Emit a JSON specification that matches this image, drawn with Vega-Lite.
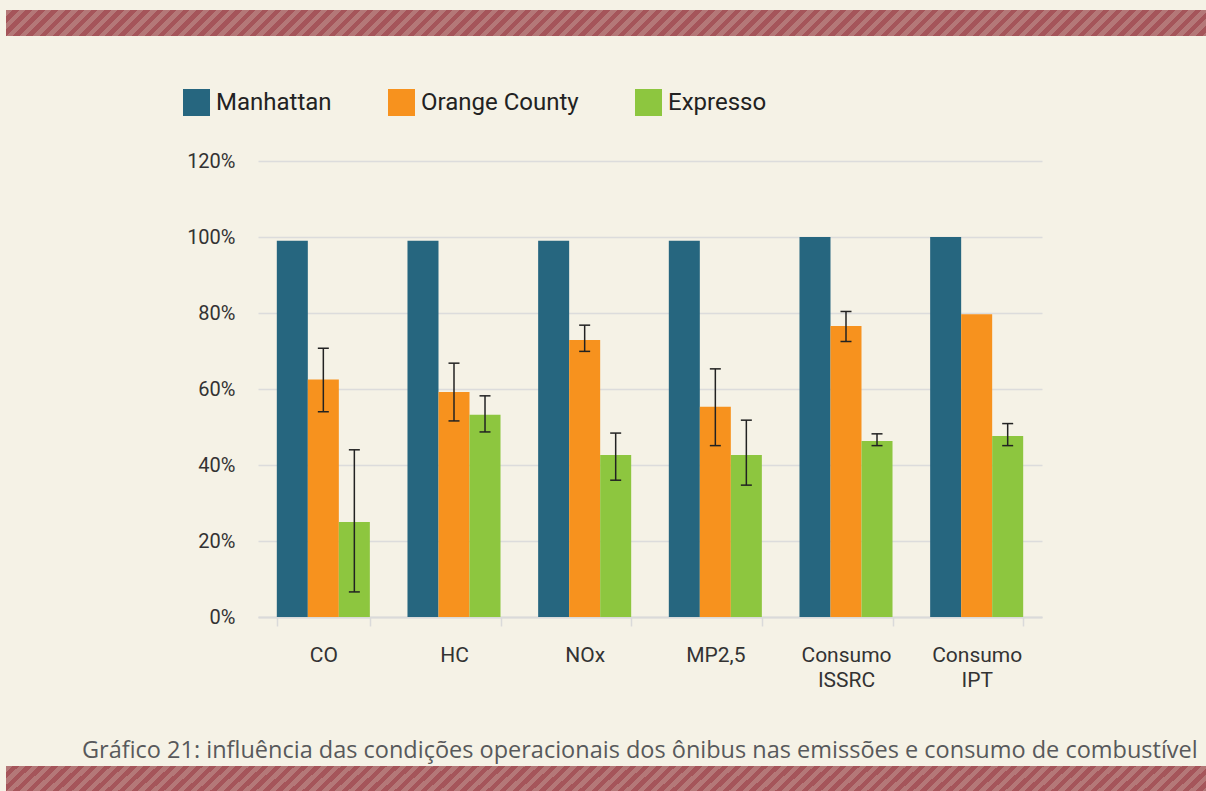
{
  "$schema": "https://vega.github.io/schema/vega-lite/v6.json",
  "background": "#F5F2E6",
  "padding": {"left": 6, "top": 10, "right": 0, "bottom": 0},
  "bounds": "flush",
  "center": true,
  "spacing": 125,
  "config": {
    "view": {"stroke": null},
    "axis": {"labelFont": "Roboto", "labelColor": "#333333"},
    "legend": {"labelFont": "Roboto"}
  },
  "datasets": {
    "emis": [
      {"cat": "CO", "series": "Manhattan", "value": 0.99},
      {"cat": "CO", "series": "Orange County", "value": 0.625, "lo": 0.54, "hi": 0.707},
      {"cat": "CO", "series": "Expresso", "value": 0.25, "lo": 0.066, "hi": 0.44},
      {"cat": "HC", "series": "Manhattan", "value": 0.99},
      {"cat": "HC", "series": "Orange County", "value": 0.592, "lo": 0.516, "hi": 0.668},
      {"cat": "HC", "series": "Expresso", "value": 0.532, "lo": 0.487, "hi": 0.582},
      {"cat": "NOx", "series": "Manhattan", "value": 0.99},
      {"cat": "NOx", "series": "Orange County", "value": 0.729, "lo": 0.699, "hi": 0.768},
      {"cat": "NOx", "series": "Expresso", "value": 0.426, "lo": 0.36, "hi": 0.484},
      {"cat": "MP2,5", "series": "Manhattan", "value": 0.99},
      {"cat": "MP2,5", "series": "Orange County", "value": 0.553, "lo": 0.451, "hi": 0.653},
      {"cat": "MP2,5", "series": "Expresso", "value": 0.426, "lo": 0.347, "hi": 0.518},
      {"cat": "Consumo ISSRC", "series": "Manhattan", "value": 1.0},
      {"cat": "Consumo ISSRC", "series": "Orange County", "value": 0.766, "lo": 0.725, "hi": 0.804},
      {"cat": "Consumo ISSRC", "series": "Expresso", "value": 0.463, "lo": 0.451, "hi": 0.482},
      {"cat": "Consumo IPT", "series": "Manhattan", "value": 1.0},
      {"cat": "Consumo IPT", "series": "Orange County", "value": 0.797},
      {"cat": "Consumo IPT", "series": "Expresso", "value": 0.476, "lo": 0.451, "hi": 0.509}
    ]
  },
  "vconcat": [
    {
      "width": 1288,
      "height": 26,
      "data": {"values": [{"k": 1}]},
      "mark": {"type": "rect", "strokeWidth": 0, "fill": {"gradient": "linear", "x1": 0, "y1": 0, "x2": 1.01977, "y2": 0.020586, "stops": [
{"offset":0,"color":"#b47878"},{"offset":0.005,"color":"#b47878"},{"offset":0.005,"color":"#a5555a"},{"offset":0.01,"color":"#a5555a"},
{"offset":0.01,"color":"#b47878"},{"offset":0.015,"color":"#b47878"},{"offset":0.015,"color":"#a5555a"},{"offset":0.02,"color":"#a5555a"},
{"offset":0.02,"color":"#b47878"},{"offset":0.025,"color":"#b47878"},{"offset":0.025,"color":"#a5555a"},{"offset":0.03,"color":"#a5555a"},
{"offset":0.03,"color":"#b47878"},{"offset":0.035,"color":"#b47878"},{"offset":0.035,"color":"#a5555a"},{"offset":0.04,"color":"#a5555a"},
{"offset":0.04,"color":"#b47878"},{"offset":0.045,"color":"#b47878"},{"offset":0.045,"color":"#a5555a"},{"offset":0.05,"color":"#a5555a"},
{"offset":0.05,"color":"#b47878"},{"offset":0.055,"color":"#b47878"},{"offset":0.055,"color":"#a5555a"},{"offset":0.06,"color":"#a5555a"},
{"offset":0.06,"color":"#b47878"},{"offset":0.065,"color":"#b47878"},{"offset":0.065,"color":"#a5555a"},{"offset":0.07,"color":"#a5555a"},
{"offset":0.07,"color":"#b47878"},{"offset":0.075,"color":"#b47878"},{"offset":0.075,"color":"#a5555a"},{"offset":0.08,"color":"#a5555a"},
{"offset":0.08,"color":"#b47878"},{"offset":0.085,"color":"#b47878"},{"offset":0.085,"color":"#a5555a"},{"offset":0.09,"color":"#a5555a"},
{"offset":0.09,"color":"#b47878"},{"offset":0.095,"color":"#b47878"},{"offset":0.095,"color":"#a5555a"},{"offset":0.1,"color":"#a5555a"},
{"offset":0.1,"color":"#b47878"},{"offset":0.105,"color":"#b47878"},{"offset":0.105,"color":"#a5555a"},{"offset":0.11,"color":"#a5555a"},
{"offset":0.11,"color":"#b47878"},{"offset":0.115,"color":"#b47878"},{"offset":0.115,"color":"#a5555a"},{"offset":0.12,"color":"#a5555a"},
{"offset":0.12,"color":"#b47878"},{"offset":0.125,"color":"#b47878"},{"offset":0.125,"color":"#a5555a"},{"offset":0.13,"color":"#a5555a"},
{"offset":0.13,"color":"#b47878"},{"offset":0.135,"color":"#b47878"},{"offset":0.135,"color":"#a5555a"},{"offset":0.14,"color":"#a5555a"},
{"offset":0.14,"color":"#b47878"},{"offset":0.145,"color":"#b47878"},{"offset":0.145,"color":"#a5555a"},{"offset":0.15,"color":"#a5555a"},
{"offset":0.15,"color":"#b47878"},{"offset":0.155,"color":"#b47878"},{"offset":0.155,"color":"#a5555a"},{"offset":0.16,"color":"#a5555a"},
{"offset":0.16,"color":"#b47878"},{"offset":0.165,"color":"#b47878"},{"offset":0.165,"color":"#a5555a"},{"offset":0.17,"color":"#a5555a"},
{"offset":0.17,"color":"#b47878"},{"offset":0.175,"color":"#b47878"},{"offset":0.175,"color":"#a5555a"},{"offset":0.18,"color":"#a5555a"},
{"offset":0.18,"color":"#b47878"},{"offset":0.185,"color":"#b47878"},{"offset":0.185,"color":"#a5555a"},{"offset":0.19,"color":"#a5555a"},
{"offset":0.19,"color":"#b47878"},{"offset":0.195,"color":"#b47878"},{"offset":0.195,"color":"#a5555a"},{"offset":0.2,"color":"#a5555a"},
{"offset":0.2,"color":"#b47878"},{"offset":0.205,"color":"#b47878"},{"offset":0.205,"color":"#a5555a"},{"offset":0.21,"color":"#a5555a"},
{"offset":0.21,"color":"#b47878"},{"offset":0.215,"color":"#b47878"},{"offset":0.215,"color":"#a5555a"},{"offset":0.22,"color":"#a5555a"},
{"offset":0.22,"color":"#b47878"},{"offset":0.225,"color":"#b47878"},{"offset":0.225,"color":"#a5555a"},{"offset":0.23,"color":"#a5555a"},
{"offset":0.23,"color":"#b47878"},{"offset":0.235,"color":"#b47878"},{"offset":0.235,"color":"#a5555a"},{"offset":0.24,"color":"#a5555a"},
{"offset":0.24,"color":"#b47878"},{"offset":0.245,"color":"#b47878"},{"offset":0.245,"color":"#a5555a"},{"offset":0.25,"color":"#a5555a"},
{"offset":0.25,"color":"#b47878"},{"offset":0.255,"color":"#b47878"},{"offset":0.255,"color":"#a5555a"},{"offset":0.26,"color":"#a5555a"},
{"offset":0.26,"color":"#b47878"},{"offset":0.265,"color":"#b47878"},{"offset":0.265,"color":"#a5555a"},{"offset":0.27,"color":"#a5555a"},
{"offset":0.27,"color":"#b47878"},{"offset":0.275,"color":"#b47878"},{"offset":0.275,"color":"#a5555a"},{"offset":0.28,"color":"#a5555a"},
{"offset":0.28,"color":"#b47878"},{"offset":0.285,"color":"#b47878"},{"offset":0.285,"color":"#a5555a"},{"offset":0.29,"color":"#a5555a"},
{"offset":0.29,"color":"#b47878"},{"offset":0.295,"color":"#b47878"},{"offset":0.295,"color":"#a5555a"},{"offset":0.3,"color":"#a5555a"},
{"offset":0.3,"color":"#b47878"},{"offset":0.305,"color":"#b47878"},{"offset":0.305,"color":"#a5555a"},{"offset":0.31,"color":"#a5555a"},
{"offset":0.31,"color":"#b47878"},{"offset":0.315,"color":"#b47878"},{"offset":0.315,"color":"#a5555a"},{"offset":0.32,"color":"#a5555a"},
{"offset":0.32,"color":"#b47878"},{"offset":0.325,"color":"#b47878"},{"offset":0.325,"color":"#a5555a"},{"offset":0.33,"color":"#a5555a"},
{"offset":0.33,"color":"#b47878"},{"offset":0.335,"color":"#b47878"},{"offset":0.335,"color":"#a5555a"},{"offset":0.34,"color":"#a5555a"},
{"offset":0.34,"color":"#b47878"},{"offset":0.345,"color":"#b47878"},{"offset":0.345,"color":"#a5555a"},{"offset":0.35,"color":"#a5555a"},
{"offset":0.35,"color":"#b47878"},{"offset":0.355,"color":"#b47878"},{"offset":0.355,"color":"#a5555a"},{"offset":0.36,"color":"#a5555a"},
{"offset":0.36,"color":"#b47878"},{"offset":0.365,"color":"#b47878"},{"offset":0.365,"color":"#a5555a"},{"offset":0.37,"color":"#a5555a"},
{"offset":0.37,"color":"#b47878"},{"offset":0.375,"color":"#b47878"},{"offset":0.375,"color":"#a5555a"},{"offset":0.38,"color":"#a5555a"},
{"offset":0.38,"color":"#b47878"},{"offset":0.385,"color":"#b47878"},{"offset":0.385,"color":"#a5555a"},{"offset":0.39,"color":"#a5555a"},
{"offset":0.39,"color":"#b47878"},{"offset":0.395,"color":"#b47878"},{"offset":0.395,"color":"#a5555a"},{"offset":0.4,"color":"#a5555a"},
{"offset":0.4,"color":"#b47878"},{"offset":0.405,"color":"#b47878"},{"offset":0.405,"color":"#a5555a"},{"offset":0.41,"color":"#a5555a"},
{"offset":0.41,"color":"#b47878"},{"offset":0.415,"color":"#b47878"},{"offset":0.415,"color":"#a5555a"},{"offset":0.42,"color":"#a5555a"},
{"offset":0.42,"color":"#b47878"},{"offset":0.425,"color":"#b47878"},{"offset":0.425,"color":"#a5555a"},{"offset":0.43,"color":"#a5555a"},
{"offset":0.43,"color":"#b47878"},{"offset":0.435,"color":"#b47878"},{"offset":0.435,"color":"#a5555a"},{"offset":0.44,"color":"#a5555a"},
{"offset":0.44,"color":"#b47878"},{"offset":0.445,"color":"#b47878"},{"offset":0.445,"color":"#a5555a"},{"offset":0.45,"color":"#a5555a"},
{"offset":0.45,"color":"#b47878"},{"offset":0.455,"color":"#b47878"},{"offset":0.455,"color":"#a5555a"},{"offset":0.46,"color":"#a5555a"},
{"offset":0.46,"color":"#b47878"},{"offset":0.465,"color":"#b47878"},{"offset":0.465,"color":"#a5555a"},{"offset":0.47,"color":"#a5555a"},
{"offset":0.47,"color":"#b47878"},{"offset":0.475,"color":"#b47878"},{"offset":0.475,"color":"#a5555a"},{"offset":0.48,"color":"#a5555a"},
{"offset":0.48,"color":"#b47878"},{"offset":0.485,"color":"#b47878"},{"offset":0.485,"color":"#a5555a"},{"offset":0.49,"color":"#a5555a"},
{"offset":0.49,"color":"#b47878"},{"offset":0.495,"color":"#b47878"},{"offset":0.495,"color":"#a5555a"},{"offset":0.5,"color":"#a5555a"},
{"offset":0.5,"color":"#b47878"},{"offset":0.505,"color":"#b47878"},{"offset":0.505,"color":"#a5555a"},{"offset":0.51,"color":"#a5555a"},
{"offset":0.51,"color":"#b47878"},{"offset":0.515,"color":"#b47878"},{"offset":0.515,"color":"#a5555a"},{"offset":0.52,"color":"#a5555a"},
{"offset":0.52,"color":"#b47878"},{"offset":0.525,"color":"#b47878"},{"offset":0.525,"color":"#a5555a"},{"offset":0.53,"color":"#a5555a"},
{"offset":0.53,"color":"#b47878"},{"offset":0.535,"color":"#b47878"},{"offset":0.535,"color":"#a5555a"},{"offset":0.54,"color":"#a5555a"},
{"offset":0.54,"color":"#b47878"},{"offset":0.545,"color":"#b47878"},{"offset":0.545,"color":"#a5555a"},{"offset":0.55,"color":"#a5555a"},
{"offset":0.55,"color":"#b47878"},{"offset":0.555,"color":"#b47878"},{"offset":0.555,"color":"#a5555a"},{"offset":0.56,"color":"#a5555a"},
{"offset":0.56,"color":"#b47878"},{"offset":0.565,"color":"#b47878"},{"offset":0.565,"color":"#a5555a"},{"offset":0.57,"color":"#a5555a"},
{"offset":0.57,"color":"#b47878"},{"offset":0.575,"color":"#b47878"},{"offset":0.575,"color":"#a5555a"},{"offset":0.58,"color":"#a5555a"},
{"offset":0.58,"color":"#b47878"},{"offset":0.585,"color":"#b47878"},{"offset":0.585,"color":"#a5555a"},{"offset":0.59,"color":"#a5555a"},
{"offset":0.59,"color":"#b47878"},{"offset":0.595,"color":"#b47878"},{"offset":0.595,"color":"#a5555a"},{"offset":0.6,"color":"#a5555a"},
{"offset":0.6,"color":"#b47878"},{"offset":0.605,"color":"#b47878"},{"offset":0.605,"color":"#a5555a"},{"offset":0.61,"color":"#a5555a"},
{"offset":0.61,"color":"#b47878"},{"offset":0.615,"color":"#b47878"},{"offset":0.615,"color":"#a5555a"},{"offset":0.62,"color":"#a5555a"},
{"offset":0.62,"color":"#b47878"},{"offset":0.625,"color":"#b47878"},{"offset":0.625,"color":"#a5555a"},{"offset":0.63,"color":"#a5555a"},
{"offset":0.63,"color":"#b47878"},{"offset":0.635,"color":"#b47878"},{"offset":0.635,"color":"#a5555a"},{"offset":0.64,"color":"#a5555a"},
{"offset":0.64,"color":"#b47878"},{"offset":0.645,"color":"#b47878"},{"offset":0.645,"color":"#a5555a"},{"offset":0.65,"color":"#a5555a"},
{"offset":0.65,"color":"#b47878"},{"offset":0.655,"color":"#b47878"},{"offset":0.655,"color":"#a5555a"},{"offset":0.66,"color":"#a5555a"},
{"offset":0.66,"color":"#b47878"},{"offset":0.665,"color":"#b47878"},{"offset":0.665,"color":"#a5555a"},{"offset":0.67,"color":"#a5555a"},
{"offset":0.67,"color":"#b47878"},{"offset":0.675,"color":"#b47878"},{"offset":0.675,"color":"#a5555a"},{"offset":0.68,"color":"#a5555a"},
{"offset":0.68,"color":"#b47878"},{"offset":0.685,"color":"#b47878"},{"offset":0.685,"color":"#a5555a"},{"offset":0.69,"color":"#a5555a"},
{"offset":0.69,"color":"#b47878"},{"offset":0.695,"color":"#b47878"},{"offset":0.695,"color":"#a5555a"},{"offset":0.7,"color":"#a5555a"},
{"offset":0.7,"color":"#b47878"},{"offset":0.705,"color":"#b47878"},{"offset":0.705,"color":"#a5555a"},{"offset":0.71,"color":"#a5555a"},
{"offset":0.71,"color":"#b47878"},{"offset":0.715,"color":"#b47878"},{"offset":0.715,"color":"#a5555a"},{"offset":0.72,"color":"#a5555a"},
{"offset":0.72,"color":"#b47878"},{"offset":0.725,"color":"#b47878"},{"offset":0.725,"color":"#a5555a"},{"offset":0.73,"color":"#a5555a"},
{"offset":0.73,"color":"#b47878"},{"offset":0.735,"color":"#b47878"},{"offset":0.735,"color":"#a5555a"},{"offset":0.74,"color":"#a5555a"},
{"offset":0.74,"color":"#b47878"},{"offset":0.745,"color":"#b47878"},{"offset":0.745,"color":"#a5555a"},{"offset":0.75,"color":"#a5555a"},
{"offset":0.75,"color":"#b47878"},{"offset":0.755,"color":"#b47878"},{"offset":0.755,"color":"#a5555a"},{"offset":0.76,"color":"#a5555a"},
{"offset":0.76,"color":"#b47878"},{"offset":0.765,"color":"#b47878"},{"offset":0.765,"color":"#a5555a"},{"offset":0.77,"color":"#a5555a"},
{"offset":0.77,"color":"#b47878"},{"offset":0.775,"color":"#b47878"},{"offset":0.775,"color":"#a5555a"},{"offset":0.78,"color":"#a5555a"},
{"offset":0.78,"color":"#b47878"},{"offset":0.785,"color":"#b47878"},{"offset":0.785,"color":"#a5555a"},{"offset":0.79,"color":"#a5555a"},
{"offset":0.79,"color":"#b47878"},{"offset":0.795,"color":"#b47878"},{"offset":0.795,"color":"#a5555a"},{"offset":0.8,"color":"#a5555a"},
{"offset":0.8,"color":"#b47878"},{"offset":0.805,"color":"#b47878"},{"offset":0.805,"color":"#a5555a"},{"offset":0.81,"color":"#a5555a"},
{"offset":0.81,"color":"#b47878"},{"offset":0.815,"color":"#b47878"},{"offset":0.815,"color":"#a5555a"},{"offset":0.82,"color":"#a5555a"},
{"offset":0.82,"color":"#b47878"},{"offset":0.825,"color":"#b47878"},{"offset":0.825,"color":"#a5555a"},{"offset":0.83,"color":"#a5555a"},
{"offset":0.83,"color":"#b47878"},{"offset":0.835,"color":"#b47878"},{"offset":0.835,"color":"#a5555a"},{"offset":0.84,"color":"#a5555a"},
{"offset":0.84,"color":"#b47878"},{"offset":0.845,"color":"#b47878"},{"offset":0.845,"color":"#a5555a"},{"offset":0.85,"color":"#a5555a"},
{"offset":0.85,"color":"#b47878"},{"offset":0.855,"color":"#b47878"},{"offset":0.855,"color":"#a5555a"},{"offset":0.86,"color":"#a5555a"},
{"offset":0.86,"color":"#b47878"},{"offset":0.865,"color":"#b47878"},{"offset":0.865,"color":"#a5555a"},{"offset":0.87,"color":"#a5555a"},
{"offset":0.87,"color":"#b47878"},{"offset":0.875,"color":"#b47878"},{"offset":0.875,"color":"#a5555a"},{"offset":0.88,"color":"#a5555a"},
{"offset":0.88,"color":"#b47878"},{"offset":0.885,"color":"#b47878"},{"offset":0.885,"color":"#a5555a"},{"offset":0.89,"color":"#a5555a"},
{"offset":0.89,"color":"#b47878"},{"offset":0.895,"color":"#b47878"},{"offset":0.895,"color":"#a5555a"},{"offset":0.9,"color":"#a5555a"},
{"offset":0.9,"color":"#b47878"},{"offset":0.905,"color":"#b47878"},{"offset":0.905,"color":"#a5555a"},{"offset":0.91,"color":"#a5555a"},
{"offset":0.91,"color":"#b47878"},{"offset":0.915,"color":"#b47878"},{"offset":0.915,"color":"#a5555a"},{"offset":0.92,"color":"#a5555a"},
{"offset":0.92,"color":"#b47878"},{"offset":0.925,"color":"#b47878"},{"offset":0.925,"color":"#a5555a"},{"offset":0.93,"color":"#a5555a"},
{"offset":0.93,"color":"#b47878"},{"offset":0.935,"color":"#b47878"},{"offset":0.935,"color":"#a5555a"},{"offset":0.94,"color":"#a5555a"},
{"offset":0.94,"color":"#b47878"},{"offset":1,"color":"#b47878"}
      ]}},
      "encoding": {
        "x": {"datum": 0, "type": "quantitative", "scale": {"domain": [0, 1], "nice": false}, "axis": null},
        "x2": {"datum": 1},
        "y": {"datum": 0, "type": "quantitative", "scale": {"domain": [0, 1], "nice": false}, "axis": null},
        "y2": {"datum": 1}
      }
    },
    {
      "width": 784,
      "height": 480,
      "view": {"fill": "transparent", "stroke": null},
      "data": {"name": "emis"},
      "title": {
        "text": "Gráfico 21: influência das condições operacionais dos ônibus nas emissões e consumo de combustível",
        "orient": "bottom",
        "anchor": "start",
        "frame": "group",
        "dx": -176,
        "offset": 49,
        "font": "Open Sans",
        "fontSize": 23.5,
        "fontWeight": "normal",
        "color": "#58595B"
      },
      "encoding": {
        "x": {
          "field": "cat",
          "type": "nominal",
          "sort": ["CO", "HC", "NOx", "MP2,5", "Consumo ISSRC", "Consumo IPT"],
          "scale": {"paddingInner": 0.288, "paddingOuter": 0.144},
          "axis": {
            "title": null,
            "labelAngle": 0,
            "labelExpr": "split(datum.label, ' ')",
            "labelFontSize": 21,
            "labelLineHeight": 25,
            "labelPadding": 18,
            "tickBand": "extent",
            "ticks": true,
            "tickSize": 9,
            "tickColor": "#DADADA",
            "tickWidth": 1.5,
            "domainColor": "#DADADA",
            "domainWidth": 2,
            "offset": -24,
            "grid": false
          }
        },
        "xOffset": {
          "field": "series",
          "type": "nominal",
          "sort": ["Manhattan", "Orange County", "Expresso"],
          "scale": {"paddingInner": 0, "paddingOuter": 0}
        }
      },
      "layer": [
        {
          "mark": {"type": "bar"},
          "encoding": {
            "y": {
              "field": "value",
              "type": "quantitative",
              "scale": {"domain": [0, 1.2], "range": [456, 0], "nice": false},
              "axis": {
                "title": null,
                "values": [0, 0.2, 0.4, 0.6, 0.8, 1, 1.2],
                "format": ".0%",
                "labelFontSize": 20,
                "labelPadding": 23,
                "ticks": false,
                "domain": false,
                "gridColor": "#DCDCDC",
                "gridWidth": 1.5
              }
            },
            "color": {
              "field": "series",
              "type": "nominal",
              "scale": {
                "domain": ["Manhattan", "Orange County", "Expresso"],
                "range": ["#26667F", "#F7921E", "#8DC63F"]
              },
              "legend": {
                "title": null,
                "orient": "none",
                "legendX": 177,
                "legendY": 79,
                "direction": "horizontal",
                "symbolType": "square",
                "symbolSize": 729,
                "symbolStrokeWidth": 0,
                "symbolOpacity": 1,
                "labelFontSize": 24,
                "labelColor": "#222222",
                "labelOffset": 6,
                "columnPadding": 56
              }
            }
          }
        },
        {
          "transform": [{"filter": "datum.lo != null"}],
          "mark": {"type": "rule", "color": "#222222", "strokeWidth": 1.5},
          "encoding": {
            "y": {"field": "lo", "type": "quantitative"},
            "y2": {"field": "hi"}
          }
        },
        {
          "transform": [{"filter": "datum.lo != null"}],
          "mark": {"type": "tick", "color": "#222222", "size": 11, "thickness": 1.5, "opacity": 1},
          "encoding": {
            "y": {"field": "lo", "type": "quantitative"}
          }
        },
        {
          "transform": [{"filter": "datum.hi != null"}],
          "mark": {"type": "tick", "color": "#222222", "size": 11, "thickness": 1.5, "opacity": 1},
          "encoding": {
            "y": {"field": "hi", "type": "quantitative"}
          }
        }
      ]
    },
    {
      "width": 1288,
      "height": 25,
      "data": {"values": [{"k": 1}]},
      "mark": {"type": "rect", "strokeWidth": 0, "fill": {"gradient": "linear", "x1": 0, "y1": 0, "x2": 1.01977, "y2": 0.020586, "stops": [
{"offset":0,"color":"#b47878"},{"offset":0.005,"color":"#b47878"},{"offset":0.005,"color":"#a5555a"},{"offset":0.01,"color":"#a5555a"},
{"offset":0.01,"color":"#b47878"},{"offset":0.015,"color":"#b47878"},{"offset":0.015,"color":"#a5555a"},{"offset":0.02,"color":"#a5555a"},
{"offset":0.02,"color":"#b47878"},{"offset":0.025,"color":"#b47878"},{"offset":0.025,"color":"#a5555a"},{"offset":0.03,"color":"#a5555a"},
{"offset":0.03,"color":"#b47878"},{"offset":0.035,"color":"#b47878"},{"offset":0.035,"color":"#a5555a"},{"offset":0.04,"color":"#a5555a"},
{"offset":0.04,"color":"#b47878"},{"offset":0.045,"color":"#b47878"},{"offset":0.045,"color":"#a5555a"},{"offset":0.05,"color":"#a5555a"},
{"offset":0.05,"color":"#b47878"},{"offset":0.055,"color":"#b47878"},{"offset":0.055,"color":"#a5555a"},{"offset":0.06,"color":"#a5555a"},
{"offset":0.06,"color":"#b47878"},{"offset":0.065,"color":"#b47878"},{"offset":0.065,"color":"#a5555a"},{"offset":0.07,"color":"#a5555a"},
{"offset":0.07,"color":"#b47878"},{"offset":0.075,"color":"#b47878"},{"offset":0.075,"color":"#a5555a"},{"offset":0.08,"color":"#a5555a"},
{"offset":0.08,"color":"#b47878"},{"offset":0.085,"color":"#b47878"},{"offset":0.085,"color":"#a5555a"},{"offset":0.09,"color":"#a5555a"},
{"offset":0.09,"color":"#b47878"},{"offset":0.095,"color":"#b47878"},{"offset":0.095,"color":"#a5555a"},{"offset":0.1,"color":"#a5555a"},
{"offset":0.1,"color":"#b47878"},{"offset":0.105,"color":"#b47878"},{"offset":0.105,"color":"#a5555a"},{"offset":0.11,"color":"#a5555a"},
{"offset":0.11,"color":"#b47878"},{"offset":0.115,"color":"#b47878"},{"offset":0.115,"color":"#a5555a"},{"offset":0.12,"color":"#a5555a"},
{"offset":0.12,"color":"#b47878"},{"offset":0.125,"color":"#b47878"},{"offset":0.125,"color":"#a5555a"},{"offset":0.13,"color":"#a5555a"},
{"offset":0.13,"color":"#b47878"},{"offset":0.135,"color":"#b47878"},{"offset":0.135,"color":"#a5555a"},{"offset":0.14,"color":"#a5555a"},
{"offset":0.14,"color":"#b47878"},{"offset":0.145,"color":"#b47878"},{"offset":0.145,"color":"#a5555a"},{"offset":0.15,"color":"#a5555a"},
{"offset":0.15,"color":"#b47878"},{"offset":0.155,"color":"#b47878"},{"offset":0.155,"color":"#a5555a"},{"offset":0.16,"color":"#a5555a"},
{"offset":0.16,"color":"#b47878"},{"offset":0.165,"color":"#b47878"},{"offset":0.165,"color":"#a5555a"},{"offset":0.17,"color":"#a5555a"},
{"offset":0.17,"color":"#b47878"},{"offset":0.175,"color":"#b47878"},{"offset":0.175,"color":"#a5555a"},{"offset":0.18,"color":"#a5555a"},
{"offset":0.18,"color":"#b47878"},{"offset":0.185,"color":"#b47878"},{"offset":0.185,"color":"#a5555a"},{"offset":0.19,"color":"#a5555a"},
{"offset":0.19,"color":"#b47878"},{"offset":0.195,"color":"#b47878"},{"offset":0.195,"color":"#a5555a"},{"offset":0.2,"color":"#a5555a"},
{"offset":0.2,"color":"#b47878"},{"offset":0.205,"color":"#b47878"},{"offset":0.205,"color":"#a5555a"},{"offset":0.21,"color":"#a5555a"},
{"offset":0.21,"color":"#b47878"},{"offset":0.215,"color":"#b47878"},{"offset":0.215,"color":"#a5555a"},{"offset":0.22,"color":"#a5555a"},
{"offset":0.22,"color":"#b47878"},{"offset":0.225,"color":"#b47878"},{"offset":0.225,"color":"#a5555a"},{"offset":0.23,"color":"#a5555a"},
{"offset":0.23,"color":"#b47878"},{"offset":0.235,"color":"#b47878"},{"offset":0.235,"color":"#a5555a"},{"offset":0.24,"color":"#a5555a"},
{"offset":0.24,"color":"#b47878"},{"offset":0.245,"color":"#b47878"},{"offset":0.245,"color":"#a5555a"},{"offset":0.25,"color":"#a5555a"},
{"offset":0.25,"color":"#b47878"},{"offset":0.255,"color":"#b47878"},{"offset":0.255,"color":"#a5555a"},{"offset":0.26,"color":"#a5555a"},
{"offset":0.26,"color":"#b47878"},{"offset":0.265,"color":"#b47878"},{"offset":0.265,"color":"#a5555a"},{"offset":0.27,"color":"#a5555a"},
{"offset":0.27,"color":"#b47878"},{"offset":0.275,"color":"#b47878"},{"offset":0.275,"color":"#a5555a"},{"offset":0.28,"color":"#a5555a"},
{"offset":0.28,"color":"#b47878"},{"offset":0.285,"color":"#b47878"},{"offset":0.285,"color":"#a5555a"},{"offset":0.29,"color":"#a5555a"},
{"offset":0.29,"color":"#b47878"},{"offset":0.295,"color":"#b47878"},{"offset":0.295,"color":"#a5555a"},{"offset":0.3,"color":"#a5555a"},
{"offset":0.3,"color":"#b47878"},{"offset":0.305,"color":"#b47878"},{"offset":0.305,"color":"#a5555a"},{"offset":0.31,"color":"#a5555a"},
{"offset":0.31,"color":"#b47878"},{"offset":0.315,"color":"#b47878"},{"offset":0.315,"color":"#a5555a"},{"offset":0.32,"color":"#a5555a"},
{"offset":0.32,"color":"#b47878"},{"offset":0.325,"color":"#b47878"},{"offset":0.325,"color":"#a5555a"},{"offset":0.33,"color":"#a5555a"},
{"offset":0.33,"color":"#b47878"},{"offset":0.335,"color":"#b47878"},{"offset":0.335,"color":"#a5555a"},{"offset":0.34,"color":"#a5555a"},
{"offset":0.34,"color":"#b47878"},{"offset":0.345,"color":"#b47878"},{"offset":0.345,"color":"#a5555a"},{"offset":0.35,"color":"#a5555a"},
{"offset":0.35,"color":"#b47878"},{"offset":0.355,"color":"#b47878"},{"offset":0.355,"color":"#a5555a"},{"offset":0.36,"color":"#a5555a"},
{"offset":0.36,"color":"#b47878"},{"offset":0.365,"color":"#b47878"},{"offset":0.365,"color":"#a5555a"},{"offset":0.37,"color":"#a5555a"},
{"offset":0.37,"color":"#b47878"},{"offset":0.375,"color":"#b47878"},{"offset":0.375,"color":"#a5555a"},{"offset":0.38,"color":"#a5555a"},
{"offset":0.38,"color":"#b47878"},{"offset":0.385,"color":"#b47878"},{"offset":0.385,"color":"#a5555a"},{"offset":0.39,"color":"#a5555a"},
{"offset":0.39,"color":"#b47878"},{"offset":0.395,"color":"#b47878"},{"offset":0.395,"color":"#a5555a"},{"offset":0.4,"color":"#a5555a"},
{"offset":0.4,"color":"#b47878"},{"offset":0.405,"color":"#b47878"},{"offset":0.405,"color":"#a5555a"},{"offset":0.41,"color":"#a5555a"},
{"offset":0.41,"color":"#b47878"},{"offset":0.415,"color":"#b47878"},{"offset":0.415,"color":"#a5555a"},{"offset":0.42,"color":"#a5555a"},
{"offset":0.42,"color":"#b47878"},{"offset":0.425,"color":"#b47878"},{"offset":0.425,"color":"#a5555a"},{"offset":0.43,"color":"#a5555a"},
{"offset":0.43,"color":"#b47878"},{"offset":0.435,"color":"#b47878"},{"offset":0.435,"color":"#a5555a"},{"offset":0.44,"color":"#a5555a"},
{"offset":0.44,"color":"#b47878"},{"offset":0.445,"color":"#b47878"},{"offset":0.445,"color":"#a5555a"},{"offset":0.45,"color":"#a5555a"},
{"offset":0.45,"color":"#b47878"},{"offset":0.455,"color":"#b47878"},{"offset":0.455,"color":"#a5555a"},{"offset":0.46,"color":"#a5555a"},
{"offset":0.46,"color":"#b47878"},{"offset":0.465,"color":"#b47878"},{"offset":0.465,"color":"#a5555a"},{"offset":0.47,"color":"#a5555a"},
{"offset":0.47,"color":"#b47878"},{"offset":0.475,"color":"#b47878"},{"offset":0.475,"color":"#a5555a"},{"offset":0.48,"color":"#a5555a"},
{"offset":0.48,"color":"#b47878"},{"offset":0.485,"color":"#b47878"},{"offset":0.485,"color":"#a5555a"},{"offset":0.49,"color":"#a5555a"},
{"offset":0.49,"color":"#b47878"},{"offset":0.495,"color":"#b47878"},{"offset":0.495,"color":"#a5555a"},{"offset":0.5,"color":"#a5555a"},
{"offset":0.5,"color":"#b47878"},{"offset":0.505,"color":"#b47878"},{"offset":0.505,"color":"#a5555a"},{"offset":0.51,"color":"#a5555a"},
{"offset":0.51,"color":"#b47878"},{"offset":0.515,"color":"#b47878"},{"offset":0.515,"color":"#a5555a"},{"offset":0.52,"color":"#a5555a"},
{"offset":0.52,"color":"#b47878"},{"offset":0.525,"color":"#b47878"},{"offset":0.525,"color":"#a5555a"},{"offset":0.53,"color":"#a5555a"},
{"offset":0.53,"color":"#b47878"},{"offset":0.535,"color":"#b47878"},{"offset":0.535,"color":"#a5555a"},{"offset":0.54,"color":"#a5555a"},
{"offset":0.54,"color":"#b47878"},{"offset":0.545,"color":"#b47878"},{"offset":0.545,"color":"#a5555a"},{"offset":0.55,"color":"#a5555a"},
{"offset":0.55,"color":"#b47878"},{"offset":0.555,"color":"#b47878"},{"offset":0.555,"color":"#a5555a"},{"offset":0.56,"color":"#a5555a"},
{"offset":0.56,"color":"#b47878"},{"offset":0.565,"color":"#b47878"},{"offset":0.565,"color":"#a5555a"},{"offset":0.57,"color":"#a5555a"},
{"offset":0.57,"color":"#b47878"},{"offset":0.575,"color":"#b47878"},{"offset":0.575,"color":"#a5555a"},{"offset":0.58,"color":"#a5555a"},
{"offset":0.58,"color":"#b47878"},{"offset":0.585,"color":"#b47878"},{"offset":0.585,"color":"#a5555a"},{"offset":0.59,"color":"#a5555a"},
{"offset":0.59,"color":"#b47878"},{"offset":0.595,"color":"#b47878"},{"offset":0.595,"color":"#a5555a"},{"offset":0.6,"color":"#a5555a"},
{"offset":0.6,"color":"#b47878"},{"offset":0.605,"color":"#b47878"},{"offset":0.605,"color":"#a5555a"},{"offset":0.61,"color":"#a5555a"},
{"offset":0.61,"color":"#b47878"},{"offset":0.615,"color":"#b47878"},{"offset":0.615,"color":"#a5555a"},{"offset":0.62,"color":"#a5555a"},
{"offset":0.62,"color":"#b47878"},{"offset":0.625,"color":"#b47878"},{"offset":0.625,"color":"#a5555a"},{"offset":0.63,"color":"#a5555a"},
{"offset":0.63,"color":"#b47878"},{"offset":0.635,"color":"#b47878"},{"offset":0.635,"color":"#a5555a"},{"offset":0.64,"color":"#a5555a"},
{"offset":0.64,"color":"#b47878"},{"offset":0.645,"color":"#b47878"},{"offset":0.645,"color":"#a5555a"},{"offset":0.65,"color":"#a5555a"},
{"offset":0.65,"color":"#b47878"},{"offset":0.655,"color":"#b47878"},{"offset":0.655,"color":"#a5555a"},{"offset":0.66,"color":"#a5555a"},
{"offset":0.66,"color":"#b47878"},{"offset":0.665,"color":"#b47878"},{"offset":0.665,"color":"#a5555a"},{"offset":0.67,"color":"#a5555a"},
{"offset":0.67,"color":"#b47878"},{"offset":0.675,"color":"#b47878"},{"offset":0.675,"color":"#a5555a"},{"offset":0.68,"color":"#a5555a"},
{"offset":0.68,"color":"#b47878"},{"offset":0.685,"color":"#b47878"},{"offset":0.685,"color":"#a5555a"},{"offset":0.69,"color":"#a5555a"},
{"offset":0.69,"color":"#b47878"},{"offset":0.695,"color":"#b47878"},{"offset":0.695,"color":"#a5555a"},{"offset":0.7,"color":"#a5555a"},
{"offset":0.7,"color":"#b47878"},{"offset":0.705,"color":"#b47878"},{"offset":0.705,"color":"#a5555a"},{"offset":0.71,"color":"#a5555a"},
{"offset":0.71,"color":"#b47878"},{"offset":0.715,"color":"#b47878"},{"offset":0.715,"color":"#a5555a"},{"offset":0.72,"color":"#a5555a"},
{"offset":0.72,"color":"#b47878"},{"offset":0.725,"color":"#b47878"},{"offset":0.725,"color":"#a5555a"},{"offset":0.73,"color":"#a5555a"},
{"offset":0.73,"color":"#b47878"},{"offset":0.735,"color":"#b47878"},{"offset":0.735,"color":"#a5555a"},{"offset":0.74,"color":"#a5555a"},
{"offset":0.74,"color":"#b47878"},{"offset":0.745,"color":"#b47878"},{"offset":0.745,"color":"#a5555a"},{"offset":0.75,"color":"#a5555a"},
{"offset":0.75,"color":"#b47878"},{"offset":0.755,"color":"#b47878"},{"offset":0.755,"color":"#a5555a"},{"offset":0.76,"color":"#a5555a"},
{"offset":0.76,"color":"#b47878"},{"offset":0.765,"color":"#b47878"},{"offset":0.765,"color":"#a5555a"},{"offset":0.77,"color":"#a5555a"},
{"offset":0.77,"color":"#b47878"},{"offset":0.775,"color":"#b47878"},{"offset":0.775,"color":"#a5555a"},{"offset":0.78,"color":"#a5555a"},
{"offset":0.78,"color":"#b47878"},{"offset":0.785,"color":"#b47878"},{"offset":0.785,"color":"#a5555a"},{"offset":0.79,"color":"#a5555a"},
{"offset":0.79,"color":"#b47878"},{"offset":0.795,"color":"#b47878"},{"offset":0.795,"color":"#a5555a"},{"offset":0.8,"color":"#a5555a"},
{"offset":0.8,"color":"#b47878"},{"offset":0.805,"color":"#b47878"},{"offset":0.805,"color":"#a5555a"},{"offset":0.81,"color":"#a5555a"},
{"offset":0.81,"color":"#b47878"},{"offset":0.815,"color":"#b47878"},{"offset":0.815,"color":"#a5555a"},{"offset":0.82,"color":"#a5555a"},
{"offset":0.82,"color":"#b47878"},{"offset":0.825,"color":"#b47878"},{"offset":0.825,"color":"#a5555a"},{"offset":0.83,"color":"#a5555a"},
{"offset":0.83,"color":"#b47878"},{"offset":0.835,"color":"#b47878"},{"offset":0.835,"color":"#a5555a"},{"offset":0.84,"color":"#a5555a"},
{"offset":0.84,"color":"#b47878"},{"offset":0.845,"color":"#b47878"},{"offset":0.845,"color":"#a5555a"},{"offset":0.85,"color":"#a5555a"},
{"offset":0.85,"color":"#b47878"},{"offset":0.855,"color":"#b47878"},{"offset":0.855,"color":"#a5555a"},{"offset":0.86,"color":"#a5555a"},
{"offset":0.86,"color":"#b47878"},{"offset":0.865,"color":"#b47878"},{"offset":0.865,"color":"#a5555a"},{"offset":0.87,"color":"#a5555a"},
{"offset":0.87,"color":"#b47878"},{"offset":0.875,"color":"#b47878"},{"offset":0.875,"color":"#a5555a"},{"offset":0.88,"color":"#a5555a"},
{"offset":0.88,"color":"#b47878"},{"offset":0.885,"color":"#b47878"},{"offset":0.885,"color":"#a5555a"},{"offset":0.89,"color":"#a5555a"},
{"offset":0.89,"color":"#b47878"},{"offset":0.895,"color":"#b47878"},{"offset":0.895,"color":"#a5555a"},{"offset":0.9,"color":"#a5555a"},
{"offset":0.9,"color":"#b47878"},{"offset":0.905,"color":"#b47878"},{"offset":0.905,"color":"#a5555a"},{"offset":0.91,"color":"#a5555a"},
{"offset":0.91,"color":"#b47878"},{"offset":0.915,"color":"#b47878"},{"offset":0.915,"color":"#a5555a"},{"offset":0.92,"color":"#a5555a"},
{"offset":0.92,"color":"#b47878"},{"offset":0.925,"color":"#b47878"},{"offset":0.925,"color":"#a5555a"},{"offset":0.93,"color":"#a5555a"},
{"offset":0.93,"color":"#b47878"},{"offset":0.935,"color":"#b47878"},{"offset":0.935,"color":"#a5555a"},{"offset":0.94,"color":"#a5555a"},
{"offset":0.94,"color":"#b47878"},{"offset":1,"color":"#b47878"}
      ]}},
      "encoding": {
        "x": {"datum": 0, "type": "quantitative", "scale": {"domain": [0, 1], "nice": false}, "axis": null},
        "x2": {"datum": 1},
        "y": {"datum": 0, "type": "quantitative", "scale": {"domain": [0, 1], "nice": false}, "axis": null},
        "y2": {"datum": 1}
      }
    }
  ]
}
